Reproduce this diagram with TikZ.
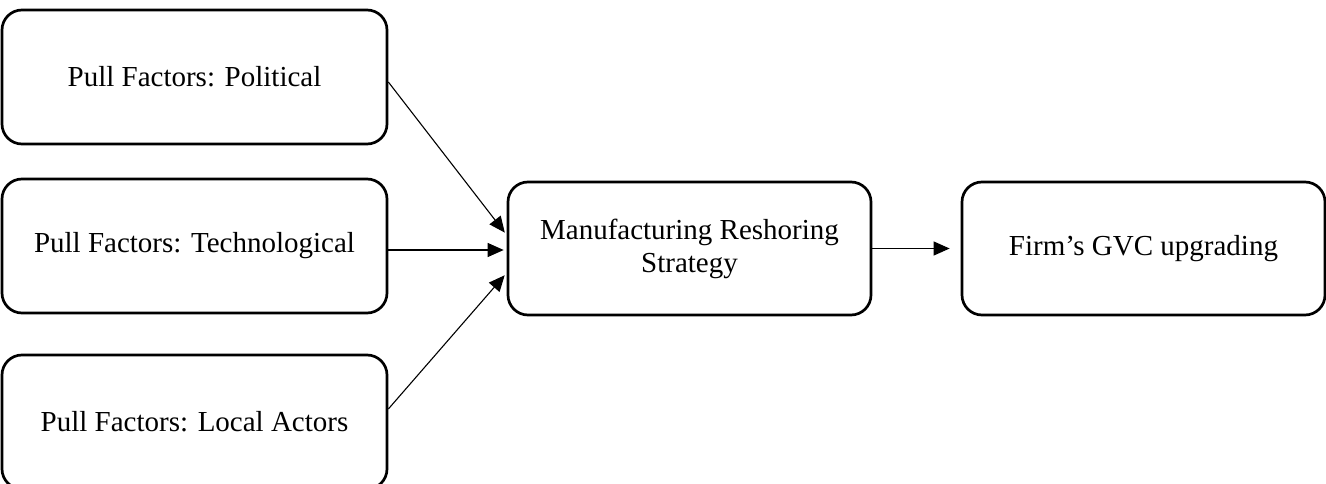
\documentclass[tikz,border=0pt]{standalone}
\usepackage{fontspec}
\setmainfont{Liberation Serif}
\usetikzlibrary{arrows.meta}
\begin{document}
\begin{tikzpicture}[x=1pt,y=-1pt,
  box/.style={draw=black, line width=2.7pt, rounded corners=20pt, align=center,
    inner sep=0pt, font=\fontsize{29}{33}\selectfont},
  leftbox/.style={box, minimum width=385pt, minimum height=134pt},
  midbox/.style={box, minimum width=363pt, minimum height=133pt},
  conn/.style={line width=1.1pt, -{Triangle[length=16pt,width=14pt]}}]
\useasboundingbox (0,0) rectangle (1326,484);
\node[leftbox] (pol) at (194.5,77) {Pull Factors: Political};
\node[leftbox] (tec) at (194.5,246) {Pull Factors: Technological};
\node[leftbox] (loc) at (194.5,422) {Pull Factors: Local Actors};
\node[midbox] (mrs) at (689.5,248.5) {Manufacturing Reshoring\\Strategy};
\node[midbox] (gvc) at (1143.5,248.5) {Firm’s GVC upgrading};
\draw[conn, shorten >=3pt] ([yshift=-5pt]pol.east) -- ([yshift=13.5pt]mrs.west);
\draw[conn, shorten >=3pt] ([yshift=-4pt]tec.east) -- ([yshift=-1.5pt]mrs.west);
\draw[conn, shorten >=3pt] ([yshift=13pt]loc.east) -- ([yshift=-24.5pt]mrs.west);
\draw[conn, shorten >=11pt] (mrs.east) -- (gvc.west);
\end{tikzpicture}
\end{document}
